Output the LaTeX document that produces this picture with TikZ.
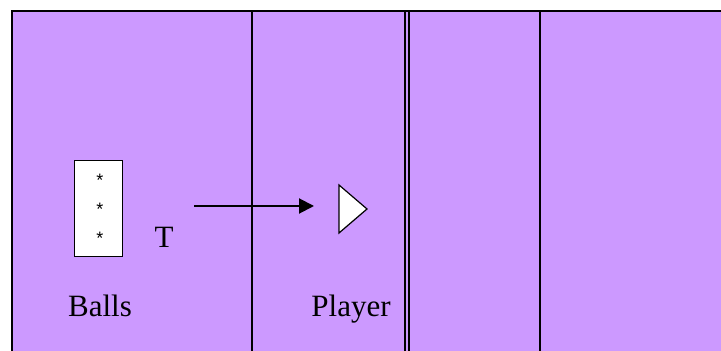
\documentclass[tikz,border=0pt]{standalone}
\usepackage{fontspec}
\setmainfont{Liberation Serif}
\newfontfamily\starfont{Liberation Sans}
\usetikzlibrary{arrows.meta}
\definecolor{lanepurple}{RGB}{204,153,255}
\begin{document}
\begin{tikzpicture}[x=0.5pt, y=-0.5pt, line cap=rect, font=\fontsize{15.5}{18}\selectfont, >={Triangle[length=7.5pt,width=7.5pt]}]
	\tikzset{lane/.style={line width=1.1pt}, label style/.style={anchor=base, inner sep=0pt}}
	\useasboundingbox (0,0) rectangle (721,351);
	\fill[lanepurple] (12,11) rectangle (721,351);
	\draw[lane] (12,351)--(12,11)--(721,11);
	\draw[lane] (252,11)--(252,351);
	\draw[line width=0.8pt] (405,11)--(405,351) (409,11)--(409,351);
	\draw[line width=0.9pt] (540,11)--(540,351);
	% rack of balls
	\node[draw, fill=white, line width=0.75pt, minimum width=24pt, minimum height=48pt, inner sep=0pt] (rack) at (98.7,208.7) {};
	\foreach \y [count=\i] in {180,209,238}
		\node[font=\starfont\fontsize{9}{10}\selectfont, inner sep=0pt] (star\i) at (100,\y) {*};
	\node[label style] (tlabel) at (164,248) {T};
	\node[label style] (ballstext) at (100,317) {Balls};
	% player
	\coordinate (player) at (339,209);
	\draw[fill=white, line width=0.6pt, line join=miter] (player) ++(0,-24) -- ++(28,24) -- ++(-28,24) -- cycle;
	\node[label style] (playertext) at (351,317) {Player};
	\coordinate (shot) at (194,206);
	\draw[->, line width=1pt, line cap=butt, shorten >=12.5pt] (shot) -- (shot -| player);
\end{tikzpicture}
\end{document}
